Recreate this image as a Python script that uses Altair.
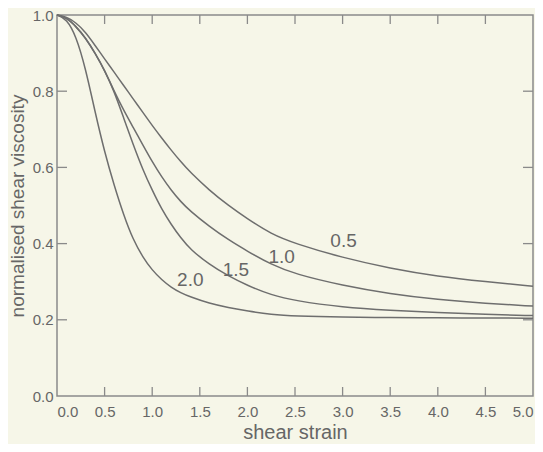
import altair as alt
import pandas as pd

# ---- data ----
strain = [0, 0.1, 0.2, 0.3, 0.4, 0.5, 0.6, 0.7, 0.8, 0.9, 1.0, 1.1, 1.2, 1.3, 1.4,
          1.6, 1.8, 2.0, 2.25, 2.5, 3.0, 3.5, 4.0, 4.5, 5.0]
visc_05 = [1.0, 0.995, 0.98, 0.955, 0.92, 0.885, 0.85, 0.815, 0.78, 0.745, 0.71, 0.677,
           0.645, 0.615, 0.587, 0.54, 0.50, 0.465, 0.425, 0.40, 0.363, 0.335, 0.314, 0.30, 0.288]
visc_10 = [1.0, 0.993, 0.97, 0.94, 0.90, 0.855, 0.80, 0.75, 0.705, 0.66, 0.615, 0.575,
           0.54, 0.51, 0.485, 0.445, 0.41, 0.38, 0.345, 0.32, 0.29, 0.268, 0.253, 0.243, 0.236]
visc_15 = [1.0, 0.993, 0.97, 0.94, 0.90, 0.855, 0.80, 0.73, 0.66, 0.595, 0.54, 0.49,
           0.45, 0.415, 0.385, 0.345, 0.315, 0.29, 0.265, 0.25, 0.233, 0.225, 0.219, 0.214, 0.211]
visc_20 = [1.0, 0.99, 0.945, 0.86, 0.745, 0.64, 0.553, 0.475, 0.41, 0.365, 0.33, 0.305,
           0.285, 0.271, 0.26, 0.243, 0.232, 0.223, 0.214, 0.21, 0.207, 0.206, 0.205, 0.205, 0.204]
series_names = ["0.5", "1.0", "1.5", "2.0"]

label_text = ["0.5", "1.0", "1.5", "2.0"]
label_x = [3.01, 2.36, 1.88, 1.40]
label_y = [0.406, 0.364, 0.332, 0.304]

x_tick_values = [0.0, 0.5, 1.0, 1.5, 2.0, 2.5, 3.0, 3.5, 4.0, 4.5, 5.0]
y_tick_values = [0.0, 0.2, 0.4, 0.6, 0.8, 1.0]
x_inner_ticks = [0.5, 1.0, 1.5, 2.0, 2.5, 3.0, 3.5, 4.0, 4.5]
y_inner_ticks = [0.2, 0.4, 0.6, 0.8]

# ---- tables ----
rows = []
for name, vals in zip(series_names, [visc_05, visc_10, visc_15, visc_20]):
    for s, v in zip(strain, vals):
        rows.append({"strain": s, "visc": v, "series": name})
df = pd.DataFrame(rows)
labels_df = pd.DataFrame({"strain": label_x, "visc": label_y, "text": label_text})
xt = pd.DataFrame({"strain": x_inner_ticks})
yt = pd.DataFrame({"visc": y_inner_ticks})

W, H = 476, 381
TEXT = "#666666"
LINE = "#6e6e6e"
FRAME = "#8a8a8a"
BG = "#f6f6e8"
FONT = "Liberation Sans"

xscale = alt.Scale(domain=[0, 5], nice=False)
yscale = alt.Scale(domain=[0, 1], nice=False)

lines = alt.Chart(df).mark_line(color=LINE, strokeWidth=1.5, interpolate="basis").encode(
    x=alt.X("strain:Q", scale=xscale,
            axis=alt.Axis(title="shear strain", values=x_tick_values, format=".1f",
                          ticks=False, tickSize=0, domain=False, grid=False,
                          labelFontSize=15, labelPadding=8, labelColor=TEXT,
                          titleFontSize=20, titleFontWeight="normal", titleColor=TEXT,
                          titlePadding=3, labelFont=FONT, titleFont=FONT)),
    y=alt.Y("visc:Q", scale=yscale,
            axis=alt.Axis(title="normalised shear viscosity", values=y_tick_values, format=".1f",
                          ticks=False, tickSize=0, domain=False, grid=False,
                          labelFontSize=15, labelPadding=4, labelColor=TEXT,
                          titleFontSize=19, titleFontWeight="normal", titleColor=TEXT,
                          titlePadding=5, labelFont=FONT, titleFont=FONT)),
    detail="series:N",
)

texts = alt.Chart(labels_df).mark_text(fontSize=19, color=TEXT, font=FONT,
                                       align="center", baseline="middle").encode(
    x=alt.X("strain:Q", scale=xscale), y=alt.Y("visc:Q", scale=yscale), text="text:N")

tick_style = dict(color=FRAME, strokeWidth=1.3)
bottom_ticks = alt.Chart(xt).mark_rule(**tick_style).encode(
    x=alt.X("strain:Q", scale=xscale), y=alt.value(H), y2=alt.value(H - 9))
top_ticks = alt.Chart(xt).mark_rule(**tick_style).encode(
    x=alt.X("strain:Q", scale=xscale), y=alt.value(0), y2=alt.value(9))
left_ticks = alt.Chart(yt).mark_rule(**tick_style).encode(
    y=alt.Y("visc:Q", scale=yscale), x=alt.value(0), x2=alt.value(10))
right_ticks = alt.Chart(yt).mark_rule(**tick_style).encode(
    y=alt.Y("visc:Q", scale=yscale), x=alt.value(W), x2=alt.value(W - 10))

chart = alt.layer(bottom_ticks, top_ticks, left_ticks, right_ticks, lines, texts).properties(
    width=W, height=H,
    autosize=alt.AutoSizeParams(type="none"),
    padding={"left": 49, "top": 7, "right": 2, "bottom": 48},
    background=BG,
).configure_view(stroke=FRAME, strokeWidth=1.5, fill=BG)

chart.save("out.html", embed_options={"renderer": "svg", "actions": False})
